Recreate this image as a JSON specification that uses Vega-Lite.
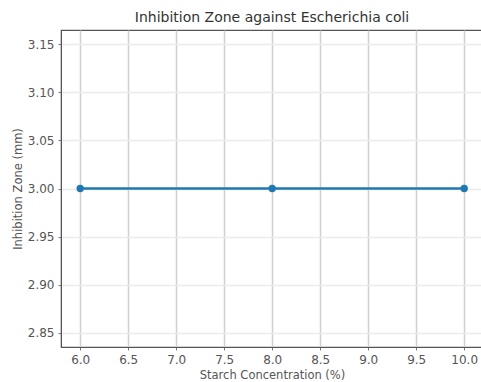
{
  "$schema": "https://vega.github.io/schema/vega-lite/v6.json",
  "autosize": "none",
  "padding": {"left": 61, "top": 30, "right": 0, "bottom": 35},
  "width": 432,
  "height": 317,
  "background": "white",
  "title": {"text": "Inhibition Zone against Escherichia coli", "fontSize": 14, "font": "DejaVu Sans", "fontWeight": "normal", "color": "#333", "offset": 5, "anchor": "middle", "dx": -5},
  "config": {
    "view": {"stroke": "#555", "strokeWidth": 1.2},
    "axis": {"labelFont": "DejaVu Sans", "titleFont": "DejaVu Sans", "labelFontSize": 12, "titleFontSize": 11.5, "titleFontWeight": "normal", "labelColor": "#555", "titleColor": "#555", "domainColor": "#555", "tickColor": "#777", "tickSize": 3}
  },
  "data": {"values": [
    {"conc": 6.0, "zone": 3.0},
    {"conc": 8.0, "zone": 3.0},
    {"conc": 10.0, "zone": 3.0}
  ]},
  "encoding": {
    "x": {"field": "conc", "type": "quantitative", "title": "Starch Concentration (%)",
      "scale": {"domain": [5.8, 10.3], "nice": false, "zero": false},
      "axis": {"values": [6.0, 6.5, 7.0, 7.5, 8.0, 8.5, 9.0, 9.5, 10.0], "format": ".1f", "gridColor": "#d0d0d0", "gridWidth": 1.5, "labelPadding": 4, "titlePadding": 4, "titleAnchor": "middle", "titleX": 211}},
    "y": {"field": "zone", "type": "quantitative", "title": "Inhibition Zone (mm)",
      "scale": {"domain": [2.835, 3.165], "nice": false, "zero": false},
      "axis": {"values": [2.85, 2.9, 2.95, 3.0, 3.05, 3.1, 3.15], "format": ".2f", "gridColor": "#ebebeb", "gridWidth": 1.5, "labelPadding": 4, "titlePadding": 4}}
  },
  "layer": [
    {"mark": {"type": "line", "color": "#1f77b4", "strokeWidth": 2.5}},
    {"mark": {"type": "point", "filled": true, "color": "#1f77b4", "size": 55, "opacity": 1}}
  ]
}
